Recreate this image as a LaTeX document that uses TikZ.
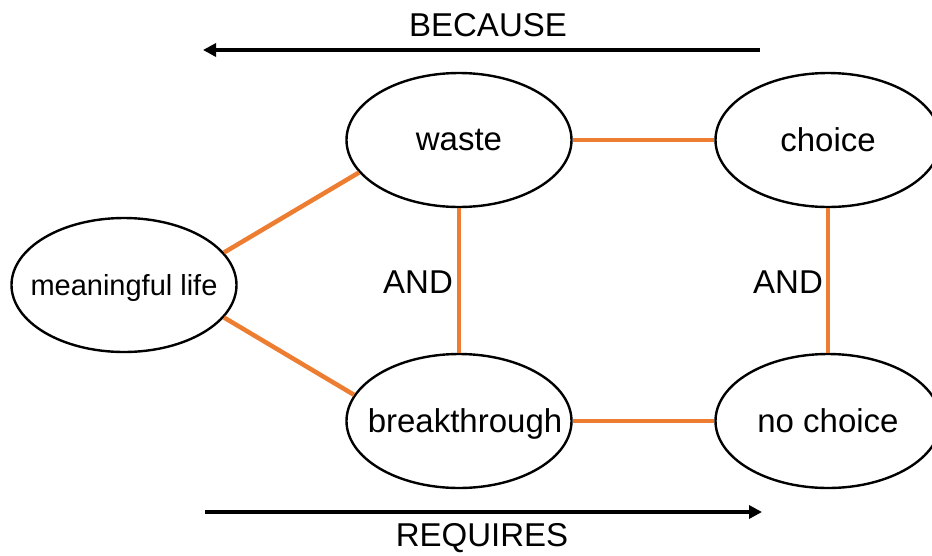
\documentclass[tikz,border=0pt]{standalone}
\usepackage{fontspec}
\setmainfont{Liberation Sans}
\usetikzlibrary{arrows.meta,shapes.geometric}
\definecolor{linkorange}{RGB}{237,125,49}
\newcommand{\ctext}[1]{\makebox[0pt]{#1}}

\begin{document}
\begin{tikzpicture}[
        x=1pt, y=-1pt,
        >={Triangle[length=13pt,width=13pt]},
        every node/.style={font=\fontsize{33}{40}\selectfont, text depth=0pt, inner sep=1pt},
        idea/.style={
            ellipse,
            draw,
            line width=2.4pt,
            inner sep=0pt,
            minimum width=225pt,
            minimum height=134pt
        },
        link/.style={draw=linkorange, line width=4.5pt},
        flow/.style={->, line width=4pt}
    ]
        \useasboundingbox (0,0) rectangle (932,555);

        \node[idea] (life) at (124,285) {\ctext{\fontsize{29}{35}\selectfont meaningful life}};
        \node[idea] (waste) at (459,140) {\ctext{waste}};
        \node[idea] (choice) at (828,140) {\ctext{choice}};
        \node[idea] (breakthrough) at (459,421) {\ctext{\hspace*{12pt}breakthrough}};
        \node[idea] (nochoice) at (828,421) {\ctext{no choice}};

        \draw[link] (life.18) -- (waste.198);
        \draw[link] (life.-18) -- (breakthrough.166);
        \draw[link] (waste) -- (choice);
        \draw[link] (breakthrough) -- (nochoice);
        \draw[link] (waste) -- (breakthrough);
        \draw[link] (choice) -- (nochoice);

        \node (and1) at (418,282) {AND};
        \node (and2) at (788,282) {AND};

        \coordinate (becausestart) at (760,50);
        \coordinate (becauseend) at (203,50);
        \coordinate (requiresstart) at (205,512);
        \coordinate (requiresend) at (762,512);
        \draw[flow] (becausestart) -- (becauseend);
        \draw[flow] (requiresstart) -- (requiresend);
        \node (because) at (488,25) {BECAUSE};
        \node (requires) at (482,535) {REQUIRES};
    \end{tikzpicture}
\end{document}
